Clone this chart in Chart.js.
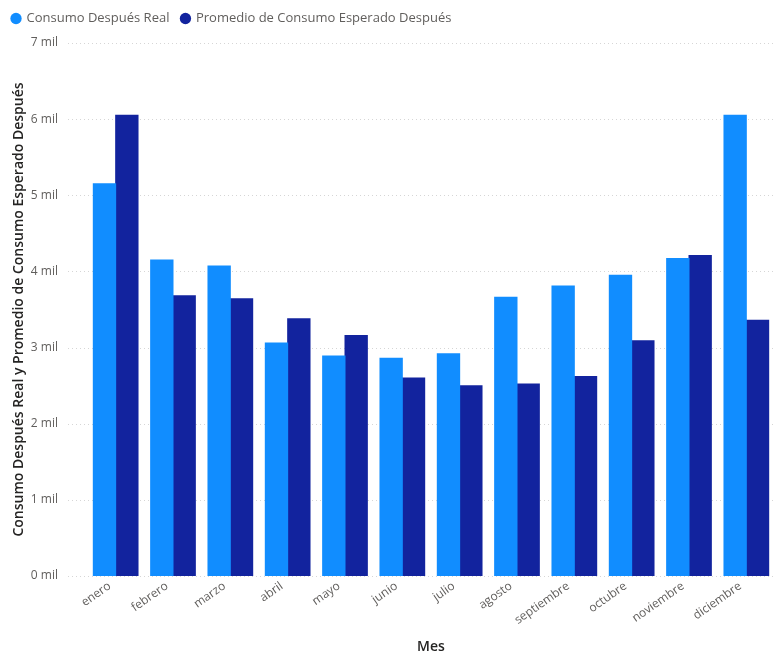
<!DOCTYPE html>
<html lang="es">
<head>
<meta charset="utf-8">
<title>Consumo por mes</title>
<script src="https://cdn.jsdelivr.net/npm/chart.js@4.4.1/dist/chart.umd.min.js"></script>
<style>
    html, body { margin: 0; padding: 0; background: #ffffff; overflow: hidden; }
    #contenedor { position: relative; width: 775px; height: 655px; }
</style>
</head>
<body>
<div id="contenedor">
    <canvas id="consumoChart"></canvas>
</div>
<script>
// Datos del gráfico
const meses = ['enero', 'febrero', 'marzo', 'abril', 'mayo', 'junio', 'julio', 'agosto', 'septiembre', 'octubre', 'noviembre', 'diciembre'];
const consumoReal = [5150, 4150, 4070, 3060, 2890, 2860, 2920, 3660, 3810, 3950, 4170, 6050];
const consumoEsperado = [6050, 3680, 3640, 3380, 3160, 2600, 2500, 2520, 2620, 3090, 4210, 3360];
const ticksEje = [0, 1000, 2000, 3000, 4000, 5000, 6000, 7000];

(function() {
    const fuente = "'Segoe UI', 'Open Sans', sans-serif";
    const grisTexto = '#605E5C';
    const oscuro = '#252423';

    // Leyenda con altura fija para dejar el área del gráfico en su sitio
    const alturaLeyenda = {
        id: 'alturaLeyenda',
        beforeInit(chart) {
            const fitOriginal = chart.legend.fit;
            chart.legend.fit = function() {
                fitOriginal.call(this);
                this.height = 43;
            };
        }
    };

    // Líneas de cuadrícula punteadas que empiezan junto a las etiquetas del eje Y
    const cuadricula = {
        id: 'cuadricula',
        beforeDatasetsDraw(chart) {
            const ctx = chart.ctx;
            const y = chart.scales.y;
            ctx.save();
            ctx.strokeStyle = '#d6d6d6';
            ctx.lineWidth = 1;
            ctx.setLineDash([1, 3]);
            y.ticks.forEach(t => {
                const py = Math.round(y.getPixelForValue(t.value)) + 0.5;
                ctx.beginPath();
                ctx.moveTo(68, py);
                ctx.lineTo(chart.chartArea.right, py);
                ctx.stroke();
            });
            ctx.restore();
        }
    };

    new Chart(document.getElementById('consumoChart'), {
        type: 'bar',
        data: {
            labels: meses,
            datasets: [{
                label: 'Consumo Después Real',
                data: consumoReal,
                backgroundColor: '#118DFF',
                borderWidth: 0,
                inflateAmount: 0.5,
                categoryPercentage: 0.78,
                barPercentage: 1
            }, {
                label: 'Promedio de Consumo Esperado Después',
                data: consumoEsperado,
                backgroundColor: '#12239E',
                borderWidth: 0,
                inflateAmount: 0.5,
                categoryPercentage: 0.78,
                barPercentage: 1
            }]
        },
        options: {
            responsive: true,
            maintainAspectRatio: false,
            animation: false,
            layout: { padding: { left: 0, right: -4, top: 0, bottom: 0 } },
            plugins: {
                tooltip: { enabled: false },
                legend: {
                    position: 'top',
                    align: 'start',
                    labels: {
                        usePointStyle: true,
                        pointStyle: 'circle',
                        boxWidth: 8,
                        boxHeight: 8,
                        padding: 12,
                        color: grisTexto,
                        font: { family: fuente, size: 13 }
                    }
                }
            },
            scales: {
                x: {
                    grid: { display: false, drawTicks: false },
                    border: { display: false },
                    ticks: {
                        color: grisTexto,
                        font: { family: fuente, size: 12 },
                        minRotation: 35,
                        maxRotation: 35,
                        padding: 3,
                        labelOffset: -6,
                        autoSkip: false
                    },
                    title: {
                        display: true,
                        text: 'Mes',
                        color: oscuro,
                        font: { family: fuente, size: 14, weight: '600', lineHeight: 1.2 },
                        padding: { top: 0, bottom: 0 }
                    },
                    afterFit(scale) { scale.height = 79; }
                },
                y: {
                    min: 0,
                    max: 7000,
                    grid: { display: false, drawTicks: false },
                    border: { display: false },
                    afterBuildTicks(scale) {
                        scale.ticks = ticksEje.map(v => ({ value: v }));
                    },
                    ticks: {
                        color: grisTexto,
                        font: { family: fuente, size: 12 },
                        padding: 29,
                        callback: v => (v / 1000) + ' mil'
                    },
                    title: {
                        display: true,
                        text: 'Consumo Después Real y Promedio de Consumo Esperado Después',
                        color: oscuro,
                        font: { family: fuente, size: 14, weight: '600', lineHeight: 1.2 },
                        padding: { top: 11, bottom: 0 }
                    },
                    afterFit(scale) { scale.width = 87; }
                }
            }
        },
        plugins: [alturaLeyenda, cuadricula]
    });
})();
</script>
</body>
</html>
